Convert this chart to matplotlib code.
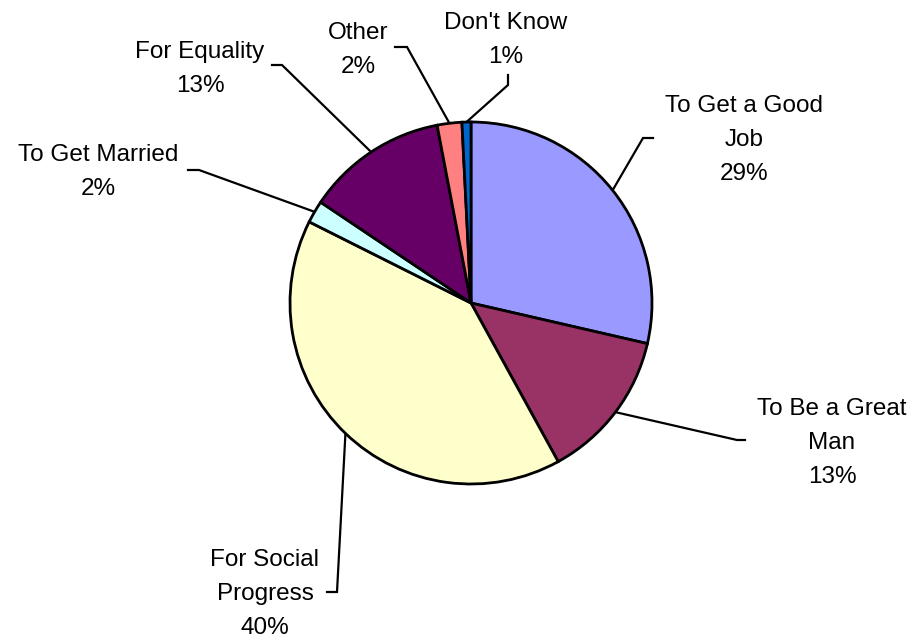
import matplotlib.pyplot as plt
import numpy as np

plt.rcParams['font.family'] = ['Liberation Sans', 'DejaVu Sans']

labels = ["To Get a Good\nJob", "To Be a Great\nMan", "For Social\nProgress",
          "To Get Married", "For Equality", "Other", "Don't Know"]
values = [28.6, 13.4, 40.4, 2.0, 12.6, 2.2, 0.8]
colors = ["#9999FF", "#993366", "#FFFFCC", "#CCFFFF", "#660066", "#FF8080", "#0066CC"]

# label layout in pixel space: text anchor (centre x, last baseline y), leader elbow, leader end
text_pos = [(744, 180), (832, 483), (265, 634), (98, 195), (200, 92), (358, 73), (506, 63)]
elbows = [(643, 138), (737, 440), (337, 592), (199, 170), (282, 65), (407, 47), (508, 85)]
ends = [(653, 138), (745, 440), (327, 592), (188, 170), (272, 65), (395, 47), (508, 75)]

center = (471, 303)
radius = 181

fig = plt.figure(figsize=(9.18, 6.39), dpi=100)
ax = fig.add_axes([0, 0, 1, 1])

wedges, _ = ax.pie(
    values,
    colors=colors,
    startangle=-90,
    counterclock=True,
    center=center,
    radius=radius,
    frame=True,
    wedgeprops=dict(edgecolor="black", linewidth=2.0),
)
ax.set_xlim(0, 918)
ax.set_ylim(639, 0)
ax.axis("off")

for w, lab, v, tp, el, en in zip(wedges, labels, values, text_pos, elbows, ends):
    mid = np.deg2rad((w.theta1 + w.theta2) / 2)
    sx = center[0] + radius * np.cos(mid)
    sy = center[1] + radius * np.sin(mid)
    ax.plot([sx, el[0], en[0]], [sy, el[1], en[1]], color="black", lw=1.6,
            solid_joinstyle="miter", zorder=0)
    ax.text(tp[0], tp[1], f"{lab}\n{round(v)}%", ha="center", va="baseline",
            multialignment="center", fontsize=17.5, linespacing=1.72)

fig.savefig("out.png", dpi=100)
